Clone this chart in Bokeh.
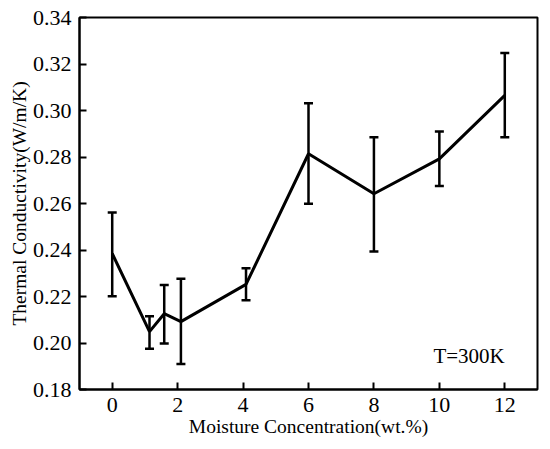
from bokeh.plotting import figure
from bokeh.models import ColumnDataSource, Whisker, TeeHead, FixedTicker, NumeralTickFormatter, Range1d
from bokeh.core.properties import value
from bokeh.embed import file_html
from bokeh.resources import INLINE

moisture = [0, 1.14, 1.59, 2.1, 4.09, 6, 8, 10, 12]
conductivity = [0.2385, 0.2049, 0.2126, 0.2092, 0.2252, 0.2814, 0.2642, 0.2792, 0.3065]
err_upper = [0.2561, 0.2115, 0.2250, 0.2276, 0.2322, 0.3031, 0.2885, 0.2910, 0.3247]
err_lower = [0.2201, 0.1975, 0.1998, 0.1910, 0.2184, 0.2599, 0.2394, 0.2675, 0.2885]
x_ticks = [0, 2, 4, 6, 8, 10, 12]
y_ticks = [0.18, 0.20, 0.22, 0.24, 0.26, 0.28, 0.30, 0.32, 0.34]
annotation = "T=300K"

FONT = "Liberation Serif"

p = figure(width=542, height=441, output_backend="svg", toolbar_location=None,
           x_range=Range1d(-1, 13), y_range=Range1d(0.18, 0.34),
           min_border_left=79, min_border_right=5, min_border_top=17, min_border_bottom=52)

src = ColumnDataSource(dict(x=moisture, y=conductivity, upper=err_upper, lower=err_lower))

p.line("x", "y", source=src, line_color="black", line_width=3)
w = Whisker(base="x", upper="upper", lower="lower", source=src,
            line_color="black", line_width=2.5,
            upper_head=TeeHead(size=9, line_color="black", line_width=2.5),
            lower_head=TeeHead(size=9, line_color="black", line_width=2.5))
p.add_layout(w)

p.text(x=[12.0], y=[0.1946], text=[annotation], text_align="right", text_baseline="alphabetic",
       text_font=value(FONT), text_font_size="21px", text_color="black")

p.xgrid.visible = False
p.ygrid.visible = False
p.outline_line_color = "black"
p.outline_line_width = 2
p.outline_line_alpha = 1

p.xaxis.ticker = FixedTicker(ticks=x_ticks)
p.yaxis.ticker = FixedTicker(ticks=y_ticks)
p.yaxis.formatter = NumeralTickFormatter(format="0.00")
p.xaxis.axis_label = "Moisture Concentration(wt.%)"
p.yaxis.axis_label = "Thermal Conductivity(W/m/K)"

for ax in (p.xaxis, p.yaxis):
    ax.axis_line_width = 2
    ax.axis_line_color = "black"
    ax.major_tick_in = 7
    ax.major_tick_out = 0
    ax.major_tick_line_width = 2
    ax.major_tick_line_color = "black"
    ax.minor_tick_line_color = None
    ax.major_label_text_font = FONT
    ax.major_label_text_font_size = "22px"
    ax.major_label_text_color = "black"
    ax.axis_label_text_font = FONT
    ax.axis_label_text_font_size = "19.5px"
    ax.axis_label_text_font_style = "normal"
    ax.axis_label_text_color = "black"

p.xaxis.major_label_standoff = 8
p.xaxis.axis_label_standoff = 1
p.yaxis.major_label_standoff = 8
p.yaxis.axis_label_standoff = 0

open("out.html", "w").write(file_html(p, INLINE))
